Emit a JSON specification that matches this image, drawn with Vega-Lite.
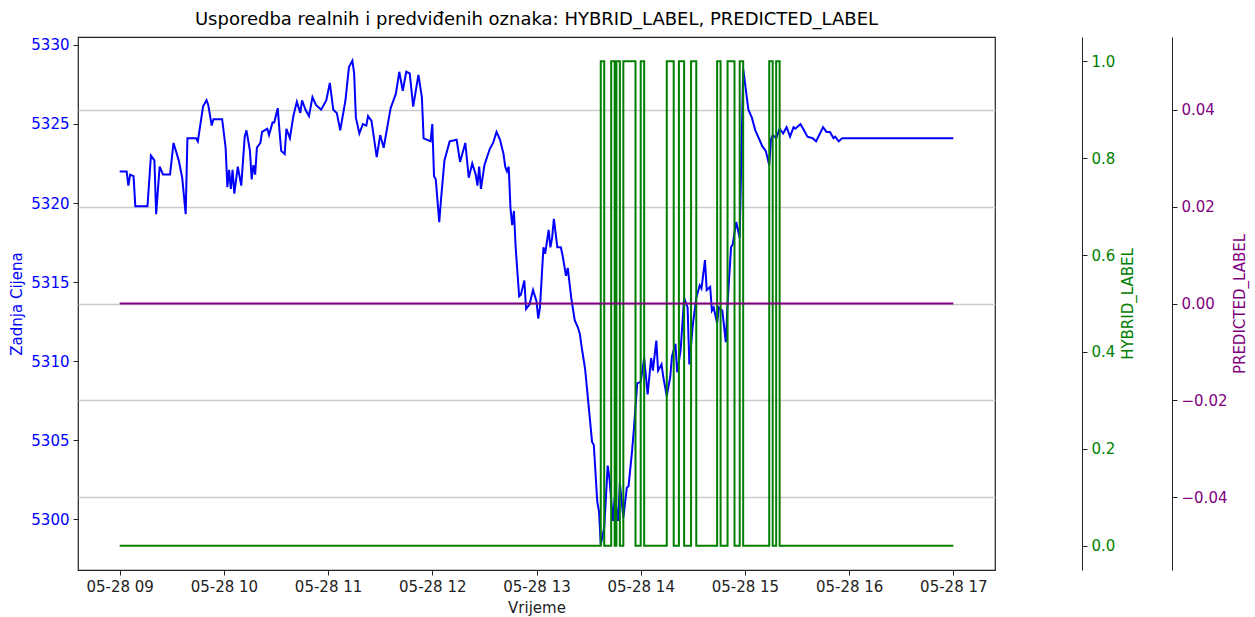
{
  "$schema": "https://vega.github.io/schema/vega-lite/v6.json",
  "width": 917,
  "height": 533,
  "autosize": {"type": "none"},
  "padding": {"left": 78, "top": 37, "right": 260, "bottom": 47},
  "background": "white",
  "title": {
    "text": "Usporedba realnih i predviđenih oznaka: HYBRID_LABEL, PREDICTED_LABEL",
    "font": "DejaVu Sans", "fontSize": 18, "fontWeight": "normal", "color": "black",
    "anchor": "middle", "offset": 8
  },
  "config": {
    "font": "DejaVu Sans",
    "view": {"stroke": "#222222", "strokeWidth": 1.2},
    "axis": {
      "labelFont": "DejaVu Sans", "titleFont": "DejaVu Sans",
      "labelFontSize": 15, "titleFontSize": 15, "titleFontWeight": "normal",
      "tickColor": "#222222", "domainColor": "#222222", "tickSize": 5,
      "labelPadding": 4, "grid": false
    }
  },
  "datasets": {
    "cijena": [
      {"t": "2024-05-28T09:00:00", "p": 5322.0}, {"t": "2024-05-28T09:04:00", "p": 5322.0}, {"t": "2024-05-28T09:05:00", "p": 5321.1},
      {"t": "2024-05-28T09:06:00", "p": 5321.8}, {"t": "2024-05-28T09:08:00", "p": 5321.7}, {"t": "2024-05-28T09:09:00", "p": 5319.8},
      {"t": "2024-05-28T09:16:00", "p": 5319.8}, {"t": "2024-05-28T09:18:00", "p": 5323.0}, {"t": "2024-05-28T09:20:00", "p": 5322.7},
      {"t": "2024-05-28T09:21:00", "p": 5319.3}, {"t": "2024-05-28T09:23:00", "p": 5322.3}, {"t": "2024-05-28T09:25:00", "p": 5321.8},
      {"t": "2024-05-28T09:29:00", "p": 5321.8}, {"t": "2024-05-28T09:31:00", "p": 5323.8}, {"t": "2024-05-28T09:34:00", "p": 5322.7},
      {"t": "2024-05-28T09:36:00", "p": 5321.6}, {"t": "2024-05-28T09:38:00", "p": 5319.3}, {"t": "2024-05-28T09:39:00", "p": 5324.1},
      {"t": "2024-05-28T09:44:00", "p": 5324.1}, {"t": "2024-05-28T09:45:00", "p": 5323.9}, {"t": "2024-05-28T09:48:00", "p": 5326.1},
      {"t": "2024-05-28T09:50:00", "p": 5326.5}, {"t": "2024-05-28T09:51:00", "p": 5326.2}, {"t": "2024-05-28T09:53:00", "p": 5324.9},
      {"t": "2024-05-28T09:54:00", "p": 5325.3}, {"t": "2024-05-28T09:59:00", "p": 5325.3}, {"t": "2024-05-28T10:01:00", "p": 5323.5},
      {"t": "2024-05-28T10:02:00", "p": 5321.0}, {"t": "2024-05-28T10:03:00", "p": 5322.1}, {"t": "2024-05-28T10:04:00", "p": 5320.9},
      {"t": "2024-05-28T10:05:00", "p": 5322.1}, {"t": "2024-05-28T10:06:00", "p": 5320.6}, {"t": "2024-05-28T10:08:00", "p": 5322.3},
      {"t": "2024-05-28T10:10:00", "p": 5321.1}, {"t": "2024-05-28T10:12:00", "p": 5324.2}, {"t": "2024-05-28T10:13:00", "p": 5324.6},
      {"t": "2024-05-28T10:15:00", "p": 5323.3}, {"t": "2024-05-28T10:16:00", "p": 5321.5}, {"t": "2024-05-28T10:17:00", "p": 5322.4},
      {"t": "2024-05-28T10:18:00", "p": 5321.8}, {"t": "2024-05-28T10:19:00", "p": 5323.5}, {"t": "2024-05-28T10:21:00", "p": 5323.8},
      {"t": "2024-05-28T10:22:00", "p": 5324.5}, {"t": "2024-05-28T10:25:00", "p": 5324.7}, {"t": "2024-05-28T10:26:00", "p": 5324.3},
      {"t": "2024-05-28T10:28:00", "p": 5325.1}, {"t": "2024-05-28T10:29:00", "p": 5325.1}, {"t": "2024-05-28T10:31:00", "p": 5326.0},
      {"t": "2024-05-28T10:32:00", "p": 5324.6}, {"t": "2024-05-28T10:33:00", "p": 5323.3}, {"t": "2024-05-28T10:35:00", "p": 5323.1},
      {"t": "2024-05-28T10:36:00", "p": 5324.7}, {"t": "2024-05-28T10:38:00", "p": 5324.1}, {"t": "2024-05-28T10:40:00", "p": 5325.5},
      {"t": "2024-05-28T10:42:00", "p": 5326.4}, {"t": "2024-05-28T10:44:00", "p": 5325.7}, {"t": "2024-05-28T10:45:00", "p": 5326.5},
      {"t": "2024-05-28T10:47:00", "p": 5325.9}, {"t": "2024-05-28T10:49:00", "p": 5325.5}, {"t": "2024-05-28T10:51:00", "p": 5326.7},
      {"t": "2024-05-28T10:53:00", "p": 5326.2}, {"t": "2024-05-28T10:56:00", "p": 5325.9}, {"t": "2024-05-28T10:59:00", "p": 5326.5},
      {"t": "2024-05-28T11:01:00", "p": 5327.6}, {"t": "2024-05-28T11:03:00", "p": 5325.9}, {"t": "2024-05-28T11:05:00", "p": 5325.7},
      {"t": "2024-05-28T11:07:00", "p": 5324.6}, {"t": "2024-05-28T11:10:00", "p": 5326.5}, {"t": "2024-05-28T11:12:00", "p": 5328.6},
      {"t": "2024-05-28T11:14:00", "p": 5329.0}, {"t": "2024-05-28T11:15:00", "p": 5328.2}, {"t": "2024-05-28T11:16:00", "p": 5325.4},
      {"t": "2024-05-28T11:18:00", "p": 5324.4}, {"t": "2024-05-28T11:20:00", "p": 5325.0}, {"t": "2024-05-28T11:22:00", "p": 5324.9},
      {"t": "2024-05-28T11:23:00", "p": 5325.5}, {"t": "2024-05-28T11:25:00", "p": 5325.2}, {"t": "2024-05-28T11:28:00", "p": 5322.9},
      {"t": "2024-05-28T11:30:00", "p": 5324.3}, {"t": "2024-05-28T11:32:00", "p": 5323.5}, {"t": "2024-05-28T11:36:00", "p": 5326.0},
      {"t": "2024-05-28T11:39:00", "p": 5326.9}, {"t": "2024-05-28T11:41:00", "p": 5328.3}, {"t": "2024-05-28T11:43:00", "p": 5327.1},
      {"t": "2024-05-28T11:45:00", "p": 5328.3}, {"t": "2024-05-28T11:47:00", "p": 5328.2}, {"t": "2024-05-28T11:49:00", "p": 5326.1},
      {"t": "2024-05-28T11:52:00", "p": 5328.1}, {"t": "2024-05-28T11:54:00", "p": 5326.7}, {"t": "2024-05-28T11:55:00", "p": 5324.1},
      {"t": "2024-05-28T11:59:00", "p": 5323.9}, {"t": "2024-05-28T12:00:00", "p": 5325.0}, {"t": "2024-05-28T12:01:00", "p": 5321.7},
      {"t": "2024-05-28T12:02:00", "p": 5321.5}, {"t": "2024-05-28T12:04:00", "p": 5318.8}, {"t": "2024-05-28T12:05:00", "p": 5320.2},
      {"t": "2024-05-28T12:07:00", "p": 5322.7}, {"t": "2024-05-28T12:10:00", "p": 5323.9}, {"t": "2024-05-28T12:14:00", "p": 5324.0},
      {"t": "2024-05-28T12:16:00", "p": 5322.6}, {"t": "2024-05-28T12:19:00", "p": 5323.8}, {"t": "2024-05-28T12:21:00", "p": 5321.6},
      {"t": "2024-05-28T12:23:00", "p": 5322.5}, {"t": "2024-05-28T12:25:00", "p": 5321.8}, {"t": "2024-05-28T12:26:00", "p": 5321.1},
      {"t": "2024-05-28T12:27:00", "p": 5322.3}, {"t": "2024-05-28T12:28:00", "p": 5320.9}, {"t": "2024-05-28T12:30:00", "p": 5322.4},
      {"t": "2024-05-28T12:33:00", "p": 5323.4}, {"t": "2024-05-28T12:35:00", "p": 5323.8}, {"t": "2024-05-28T12:37:00", "p": 5324.5},
      {"t": "2024-05-28T12:39:00", "p": 5324.0}, {"t": "2024-05-28T12:41:00", "p": 5323.1}, {"t": "2024-05-28T12:42:00", "p": 5322.3},
      {"t": "2024-05-28T12:43:00", "p": 5322.0}, {"t": "2024-05-28T12:44:00", "p": 5322.3}, {"t": "2024-05-28T12:45:00", "p": 5319.7},
      {"t": "2024-05-28T12:46:00", "p": 5318.6}, {"t": "2024-05-28T12:47:00", "p": 5319.5}, {"t": "2024-05-28T12:48:00", "p": 5317.2},
      {"t": "2024-05-28T12:50:00", "p": 5314.1}, {"t": "2024-05-28T12:51:00", "p": 5314.2}, {"t": "2024-05-28T12:53:00", "p": 5315.1},
      {"t": "2024-05-28T12:54:00", "p": 5313.3}, {"t": "2024-05-28T12:56:00", "p": 5313.6}, {"t": "2024-05-28T12:58:00", "p": 5314.5},
      {"t": "2024-05-28T13:00:00", "p": 5313.8}, {"t": "2024-05-28T13:01:00", "p": 5312.7}, {"t": "2024-05-28T13:02:00", "p": 5313.4},
      {"t": "2024-05-28T13:04:00", "p": 5317.2}, {"t": "2024-05-28T13:05:00", "p": 5316.8}, {"t": "2024-05-28T13:07:00", "p": 5318.3},
      {"t": "2024-05-28T13:08:00", "p": 5317.2}, {"t": "2024-05-28T13:09:00", "p": 5317.8}, {"t": "2024-05-28T13:10:00", "p": 5319.0},
      {"t": "2024-05-28T13:12:00", "p": 5317.2}, {"t": "2024-05-28T13:14:00", "p": 5317.2}, {"t": "2024-05-28T13:15:00", "p": 5316.7},
      {"t": "2024-05-28T13:17:00", "p": 5315.4}, {"t": "2024-05-28T13:18:00", "p": 5315.9}, {"t": "2024-05-28T13:20:00", "p": 5314.0},
      {"t": "2024-05-28T13:22:00", "p": 5312.6}, {"t": "2024-05-28T13:24:00", "p": 5312.1}, {"t": "2024-05-28T13:25:00", "p": 5311.7},
      {"t": "2024-05-28T13:26:00", "p": 5310.9}, {"t": "2024-05-28T13:28:00", "p": 5309.5}, {"t": "2024-05-28T13:32:00", "p": 5304.9},
      {"t": "2024-05-28T13:33:00", "p": 5304.7}, {"t": "2024-05-28T13:35:00", "p": 5301.1}, {"t": "2024-05-28T13:36:00", "p": 5300.5},
      {"t": "2024-05-28T13:37:00", "p": 5298.4}, {"t": "2024-05-28T13:39:00", "p": 5299.5}, {"t": "2024-05-28T13:41:00", "p": 5303.4},
      {"t": "2024-05-28T13:42:00", "p": 5302.6}, {"t": "2024-05-28T13:44:00", "p": 5299.9}, {"t": "2024-05-28T13:45:00", "p": 5301.4},
      {"t": "2024-05-28T13:47:00", "p": 5299.9}, {"t": "2024-05-28T13:48:00", "p": 5302.3}, {"t": "2024-05-28T13:50:00", "p": 5300.1},
      {"t": "2024-05-28T13:52:00", "p": 5302.0}, {"t": "2024-05-28T13:53:00", "p": 5302.1}, {"t": "2024-05-28T13:55:00", "p": 5304.3},
      {"t": "2024-05-28T13:56:00", "p": 5305.6}, {"t": "2024-05-28T13:58:00", "p": 5308.6}, {"t": "2024-05-28T14:00:00", "p": 5308.7},
      {"t": "2024-05-28T14:02:00", "p": 5310.2}, {"t": "2024-05-28T14:04:00", "p": 5307.9}, {"t": "2024-05-28T14:06:00", "p": 5310.2},
      {"t": "2024-05-28T14:07:00", "p": 5309.4}, {"t": "2024-05-28T14:09:00", "p": 5311.3}, {"t": "2024-05-28T14:10:00", "p": 5309.4},
      {"t": "2024-05-28T14:12:00", "p": 5309.8}, {"t": "2024-05-28T14:13:00", "p": 5309.0}, {"t": "2024-05-28T14:15:00", "p": 5307.8},
      {"t": "2024-05-28T14:17:00", "p": 5309.0}, {"t": "2024-05-28T14:18:00", "p": 5310.3}, {"t": "2024-05-28T14:20:00", "p": 5311.1},
      {"t": "2024-05-28T14:21:00", "p": 5309.3}, {"t": "2024-05-28T14:23:00", "p": 5310.7}, {"t": "2024-05-28T14:25:00", "p": 5314.0},
      {"t": "2024-05-28T14:27:00", "p": 5313.4}, {"t": "2024-05-28T14:28:00", "p": 5309.8}, {"t": "2024-05-28T14:30:00", "p": 5312.3},
      {"t": "2024-05-28T14:32:00", "p": 5314.0}, {"t": "2024-05-28T14:34:00", "p": 5314.8}, {"t": "2024-05-28T14:35:00", "p": 5314.6},
      {"t": "2024-05-28T14:37:00", "p": 5316.4}, {"t": "2024-05-28T14:38:00", "p": 5314.5}, {"t": "2024-05-28T14:40:00", "p": 5314.7},
      {"t": "2024-05-28T14:41:00", "p": 5313.2}, {"t": "2024-05-28T14:42:00", "p": 5313.4}, {"t": "2024-05-28T14:44:00", "p": 5312.4},
      {"t": "2024-05-28T14:45:00", "p": 5313.4}, {"t": "2024-05-28T14:47:00", "p": 5313.2}, {"t": "2024-05-28T14:49:00", "p": 5311.2},
      {"t": "2024-05-28T14:50:00", "p": 5313.6}, {"t": "2024-05-28T14:52:00", "p": 5317.2}, {"t": "2024-05-28T14:53:00", "p": 5317.4},
      {"t": "2024-05-28T14:55:00", "p": 5318.8}, {"t": "2024-05-28T14:57:00", "p": 5317.8}, {"t": "2024-05-28T14:59:00", "p": 5328.5},
      {"t": "2024-05-28T15:02:00", "p": 5325.9}, {"t": "2024-05-28T15:04:00", "p": 5325.4}, {"t": "2024-05-28T15:06:00", "p": 5324.6},
      {"t": "2024-05-28T15:08:00", "p": 5324.1}, {"t": "2024-05-28T15:10:00", "p": 5323.6}, {"t": "2024-05-28T15:12:00", "p": 5323.3},
      {"t": "2024-05-28T15:14:00", "p": 5322.4}, {"t": "2024-05-28T15:15:00", "p": 5324.0}, {"t": "2024-05-28T15:16:00", "p": 5324.3},
      {"t": "2024-05-28T15:18:00", "p": 5324.1}, {"t": "2024-05-28T15:20:00", "p": 5324.7}, {"t": "2024-05-28T15:22:00", "p": 5324.4},
      {"t": "2024-05-28T15:24:00", "p": 5324.8}, {"t": "2024-05-28T15:26:00", "p": 5324.2}, {"t": "2024-05-28T15:28:00", "p": 5324.8},
      {"t": "2024-05-28T15:29:00", "p": 5324.7}, {"t": "2024-05-28T15:32:00", "p": 5325.0}, {"t": "2024-05-28T15:34:00", "p": 5324.6},
      {"t": "2024-05-28T15:36:00", "p": 5324.2}, {"t": "2024-05-28T15:39:00", "p": 5324.1}, {"t": "2024-05-28T15:41:00", "p": 5323.9},
      {"t": "2024-05-28T15:45:00", "p": 5324.8}, {"t": "2024-05-28T15:47:00", "p": 5324.5}, {"t": "2024-05-28T15:49:00", "p": 5324.5},
      {"t": "2024-05-28T15:51:00", "p": 5324.1}, {"t": "2024-05-28T15:52:00", "p": 5324.2}, {"t": "2024-05-28T15:54:00", "p": 5323.9},
      {"t": "2024-05-28T15:56:00", "p": 5324.1}, {"t": "2024-05-28T17:00:00", "p": 5324.1}
    ],
    "hybrid": [
      {"t": "2024-05-28T09:00:00", "h": 0}, {"t": "2024-05-28T13:37:00", "h": 1}, {"t": "2024-05-28T13:39:00", "h": 0},
      {"t": "2024-05-28T13:43:00", "h": 1}, {"t": "2024-05-28T13:45:00", "h": 0}, {"t": "2024-05-28T13:46:00", "h": 1},
      {"t": "2024-05-28T13:48:00", "h": 0}, {"t": "2024-05-28T13:50:00", "h": 1}, {"t": "2024-05-28T13:57:00", "h": 0},
      {"t": "2024-05-28T14:00:00", "h": 1}, {"t": "2024-05-28T14:02:00", "h": 0}, {"t": "2024-05-28T14:15:00", "h": 1},
      {"t": "2024-05-28T14:19:00", "h": 0}, {"t": "2024-05-28T14:22:00", "h": 1}, {"t": "2024-05-28T14:25:00", "h": 0},
      {"t": "2024-05-28T14:29:00", "h": 1}, {"t": "2024-05-28T14:32:00", "h": 0}, {"t": "2024-05-28T14:44:00", "h": 1},
      {"t": "2024-05-28T14:46:00", "h": 0}, {"t": "2024-05-28T14:50:00", "h": 1}, {"t": "2024-05-28T14:54:00", "h": 0},
      {"t": "2024-05-28T14:57:00", "h": 1}, {"t": "2024-05-28T14:59:00", "h": 0}, {"t": "2024-05-28T15:14:00", "h": 1},
      {"t": "2024-05-28T15:16:00", "h": 0}, {"t": "2024-05-28T15:18:00", "h": 1}, {"t": "2024-05-28T15:20:00", "h": 0},
      {"t": "2024-05-28T17:00:00", "h": 0}
    ],
    "predicted": [
      {"t": "2024-05-28T09:00:00", "q": 0}, {"t": "2024-05-28T17:00:00", "q": 0}
    ]
  },
  "layer": [
    {
      "data": {"name": "cijena"},
      "mark": {"type": "line", "color": "#0000ff", "strokeWidth": 2},
      "encoding": {
        "x": {
          "field": "t", "type": "temporal",
          "scale": {"domain": [{"year": 2024, "month": 5, "date": 28, "hours": 8, "minutes": 36}, {"year": 2024, "month": 5, "date": 28, "hours": 17, "minutes": 24}]},
          "axis": {
            "title": "Vrijeme", "format": "%m-%d %H",
            "values": [
              {"year": 2024, "month": 5, "date": 28, "hours": 9}, {"year": 2024, "month": 5, "date": 28, "hours": 10},
              {"year": 2024, "month": 5, "date": 28, "hours": 11}, {"year": 2024, "month": 5, "date": 28, "hours": 12},
              {"year": 2024, "month": 5, "date": 28, "hours": 13}, {"year": 2024, "month": 5, "date": 28, "hours": 14},
              {"year": 2024, "month": 5, "date": 28, "hours": 15}, {"year": 2024, "month": 5, "date": 28, "hours": 16},
              {"year": 2024, "month": 5, "date": 28, "hours": 17}
            ],
            "labelAngle": 0, "labelFlush": false, "labelOverlap": false, "domain": false,
            "labelColor": "#222222", "titleColor": "#222222", "titlePadding": 6
          }
        },
        "y": {
          "field": "p", "type": "quantitative",
          "scale": {"domain": [5296.8, 5330.5], "nice": false, "zero": false},
          "axis": {"title": "Zadnja Cijena", "values": [5300, 5305, 5310, 5315, 5320, 5325, 5330], "format": "d", "domain": false, "labelColor": "#0000ff", "titleColor": "#0000ff", "titlePadding": 6}
        }
      }
    },
    {
      "data": {"name": "hybrid"},
      "mark": {"type": "line", "color": "#008000", "strokeWidth": 2, "interpolate": "step-after"},
      "encoding": {
        "x": {"field": "t", "type": "temporal"},
        "y": {
          "field": "h", "type": "quantitative",
          "scale": {"domain": [-0.05, 1.05], "nice": false, "zero": false},
          "axis": {"orient": "right", "offset": 87, "title": "HYBRID_LABEL", "values": [0, 0.2, 0.4, 0.6, 0.8, 1.0], "format": ".1f", "labelColor": "#008000", "titleColor": "#008000", "titleAngle": 270, "titleBaseline": "top", "titlePadding": 6}
        }
      }
    },
    {
      "data": {"name": "predicted"},
      "mark": {"type": "line", "color": "#800080", "strokeWidth": 2},
      "encoding": {
        "x": {"field": "t", "type": "temporal"},
        "y": {
          "field": "q", "type": "quantitative",
          "scale": {"domain": [-0.055, 0.055], "nice": false, "zero": false},
          "axis": {"orient": "right", "offset": 177, "title": "PREDICTED_LABEL", "values": [-0.04, -0.02, 0, 0.02, 0.04], "format": ".2f", "labelExpr": "datum.value < 0 ? '−' + format(-datum.value, '.2f') : format(datum.value, '.2f')", "labelColor": "#800080", "titleColor": "#800080", "titleAngle": 270, "titleBaseline": "top", "titlePadding": 6, "grid": true, "gridColor": "#cccccc", "gridWidth": 1.5}
        }
      }
    }
  ],
  "resolve": {"scale": {"y": "independent"}, "axis": {"y": "independent"}}
}
